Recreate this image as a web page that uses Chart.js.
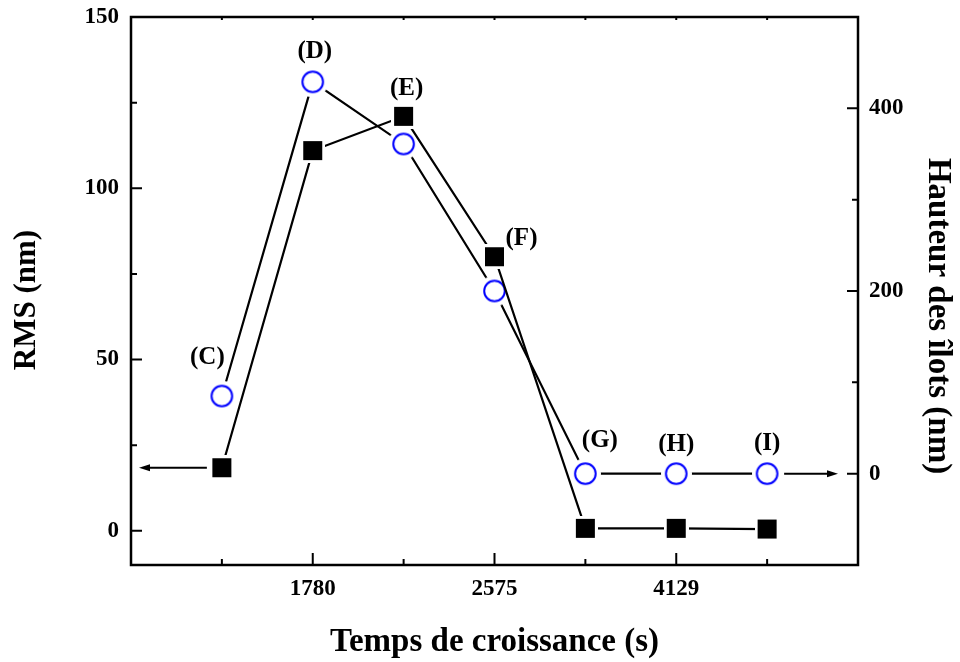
<!DOCTYPE html>
<html><head><meta charset="utf-8">
<script src="https://cdn.jsdelivr.net/npm/chart.js@4.4.1/dist/chart.umd.min.js"></script>
<style>html,body{margin:0;padding:0;background:#fff}</style>
</head><body>
<canvas id="c" width="960" height="662"></canvas>
<script>
// ---- data ----
const sampleLabels = ['(C)', '(D)', '(E)', '(F)', '(G)', '(H)', '(I)'];
const positions = [0, 1, 2, 3, 4, 5, 6];
const timeTickLabels = ['', '1780', '', '2575', '', '4129', ''];
const rmsValues = [18.4, 111, 121, 80, 0.7, 0.7, 0.5];
const islandHeights = [85, 429, 361, 200, 0, 0, 0];
const rmsTicks = [0, 50, 100, 150];
const heightTicks = [0, 200, 400];
const leftTitle = 'RMS (nm)';
const rightTitle = 'Hauteur des îlots (nm)';

const FONT = "'Liberation Serif', 'Times New Roman', serif";

function squareMarker() {
  const c = document.createElement('canvas'); c.width = 25; c.height = 25;
  const g = c.getContext('2d');
  g.fillStyle = '#fff'; g.fillRect(0, 0, 25, 25);
  g.fillStyle = '#000'; g.fillRect(3, 3, 19, 19);
  return c;
}
function circleMarker() {
  const c = document.createElement('canvas'); c.width = 31; c.height = 31;
  const g = c.getContext('2d');
  g.fillStyle = '#fff'; g.beginPath(); g.arc(15.5, 15.5, 15.5, 0, Math.PI * 2); g.fill();
  g.strokeStyle = '#0000ff'; g.lineWidth = 2;
  g.beginPath(); g.arc(15.5, 15.5, 10.3, 0, Math.PI * 2); g.stroke();
  return c;
}

const decorPlugin = {
  id: 'decor',
  afterDatasetsDraw(chart, args, opts) {
    const ctx = chart.ctx, a = chart.chartArea;
    const x = chart.scales.x, y = chart.scales.y, y2 = chart.scales.y2;
    ctx.save();
    ctx.strokeStyle = '#000'; ctx.fillStyle = '#000'; ctx.lineWidth = 2.5;
    // frame
    ctx.strokeRect(a.left, a.top, a.right - a.left, a.bottom - a.top);
    ctx.lineWidth = 2;
    ctx.beginPath();
    // left ticks (inward)
    rmsTicks.forEach(v => { const p = y.getPixelForValue(v); ctx.moveTo(a.left, p); ctx.lineTo(a.left + 11, p); });
    rmsTicks.slice(0, -1).forEach((v, i) => { const p = y.getPixelForValue((v + rmsTicks[i + 1]) / 2); ctx.moveTo(a.left, p); ctx.lineTo(a.left + 6, p); });
    // right ticks
    heightTicks.forEach(v => { const p = y2.getPixelForValue(v); ctx.moveTo(a.right, p); ctx.lineTo(a.right - 11, p); });
    heightTicks.forEach(v => { const p = y2.getPixelForValue(v + 100); ctx.moveTo(a.right, p); ctx.lineTo(a.right - 6, p); });
    // bottom & top ticks
    positions.forEach((v, i) => {
      const p = x.getPixelForValue(v);
      ctx.moveTo(p, a.bottom); ctx.lineTo(p, a.bottom - (timeTickLabels[i] ? 12 : 6));
      ctx.moveTo(p, a.top); ctx.lineTo(p, a.top + 3);
    });
    ctx.stroke();

    // arrows
    function arrow(x1, yy, x2) {
      const dir = Math.sign(x2 - x1);
      ctx.beginPath(); ctx.moveTo(x1, yy); ctx.lineTo(x2 - dir * 8, yy); ctx.stroke();
      ctx.beginPath(); ctx.moveTo(x2, yy); ctx.lineTo(x2 - dir * 11, yy - 3.5); ctx.lineTo(x2 - dir * 11, yy + 3.5); ctx.closePath(); ctx.fill();
    }
    arrow(x.getPixelForValue(positions[0]) - 15, y.getPixelForValue(rmsValues[0]), x.getPixelForValue(-1) + 8);
    const last = positions.length - 1;
    arrow(x.getPixelForValue(positions[last]) + 17, y2.getPixelForValue(islandHeights[last]), x.getPixelForValue(7) - 20);

    // sample labels
    ctx.font = 'bold 25px ' + FONT;
    ctx.textAlign = 'center'; ctx.textBaseline = 'middle';
    opts.anchors.forEach((an, i) => {
      const px = x.getPixelForValue(positions[i]);
      const py = an.axis === 'y' ? y.getPixelForValue(rmsValues[i]) : y2.getPixelForValue(islandHeights[i]);
      ctx.fillText(sampleLabels[i], px + an.dx, py + an.dy);
    });

    // left axis title (rotated counter-clockwise)
    ctx.save();
    ctx.translate(a.left - 104, (a.top + a.bottom) / 2 + 9);
    ctx.rotate(-Math.PI / 2);
    ctx.font = 'bold 31px ' + FONT;
    ctx.fillText(leftTitle, 0, 0);
    ctx.restore();

    // right axis title (rotated clockwise)
    ctx.save();
    ctx.translate(a.right + 80, (a.top + a.bottom) / 2 + 25);
    ctx.rotate(Math.PI / 2);
    ctx.font = 'bold 33px ' + FONT;
    ctx.fillText(rightTitle, 0, 0);
    ctx.restore();
    ctx.restore();
  }
};

const tickFont = { family: FONT, weight: 'bold', size: 23 };
const noPad = s => { s.paddingTop = 0; s.paddingBottom = 0; s.paddingLeft = 0; s.paddingRight = 0; };

new Chart(document.getElementById('c'), {
  type: 'line',
  data: {
    datasets: [
      {
        label: leftTitle, yAxisID: 'y',
        data: positions.map((p, i) => ({ x: p, y: rmsValues[i] })),
        borderColor: '#000', borderWidth: 2.2, pointStyle: squareMarker(), pointRadius: 10, tension: 0
      },
      {
        label: rightTitle, yAxisID: 'y2',
        data: positions.map((p, i) => ({ x: p, y: islandHeights[i] })),
        borderColor: '#000', borderWidth: 2.2, pointStyle: circleMarker(), pointRadius: 10, tension: 0
      }
    ]
  },
  options: {
    responsive: false, animation: false, devicePixelRatio: 1,
    layout: { padding: { top: 17, left: 0, right: 0, bottom: 0 } },
    plugins: {
      legend: { display: false }, tooltip: { enabled: false },
      decor: {
        anchors: [
          { axis: 'y2', dx: -14.5, dy: -38 },
          { axis: 'y2', dx: 2, dy: -30 },
          { axis: 'y', dx: 3, dy: -28 },
          { axis: 'y', dx: 27, dy: -18 },
          { axis: 'y2', dx: 14.5, dy: -33 },
          { axis: 'y2', dx: 0, dy: -29 },
          { axis: 'y2', dx: 0, dy: -30 }
        ]
      }
    },
    scales: {
      x: {
        type: 'linear', position: 'bottom', min: -1, max: 7,
        afterBuildTicks: s => { s.ticks = positions.filter((p, i) => timeTickLabels[i]).map(v => ({ value: v })); },
        afterFit: s => { s.height = 97; noPad(s); },
        grid: { display: false, drawTicks: false }, border: { display: false },
        ticks: { font: tickFont, color: '#000', padding: 10, maxRotation: 0, autoSkip: false,
          callback: v => timeTickLabels[positions.indexOf(v)] || '' },
        title: { display: true, text: 'Temps de croissance (s)', font: { family: FONT, weight: 'bold', size: 33 }, color: '#000', padding: { top: 0, bottom: 0 } }
      },
      y: {
        type: 'linear', position: 'left', min: -10, max: 150,
        afterBuildTicks: s => { s.ticks = rmsTicks.map(v => ({ value: v })); },
        afterFit: s => { s.width = 131; noPad(s); },
        grid: { display: false, drawTicks: false }, border: { display: false },
        ticks: { font: tickFont, color: '#000', padding: 12 },
        title: { display: false, text: leftTitle }
      },
      y2: {
        type: 'linear', position: 'right', min: -100, max: 500,
        afterBuildTicks: s => { s.ticks = heightTicks.map(v => ({ value: v })); },
        afterFit: s => { s.width = 102; noPad(s); },
        grid: { display: false, drawTicks: false }, border: { display: false },
        ticks: { font: tickFont, color: '#000', padding: 11 },
        title: { display: false, text: rightTitle }
      }
    }
  },
  plugins: [decorPlugin]
});
</script>
</body></html>
